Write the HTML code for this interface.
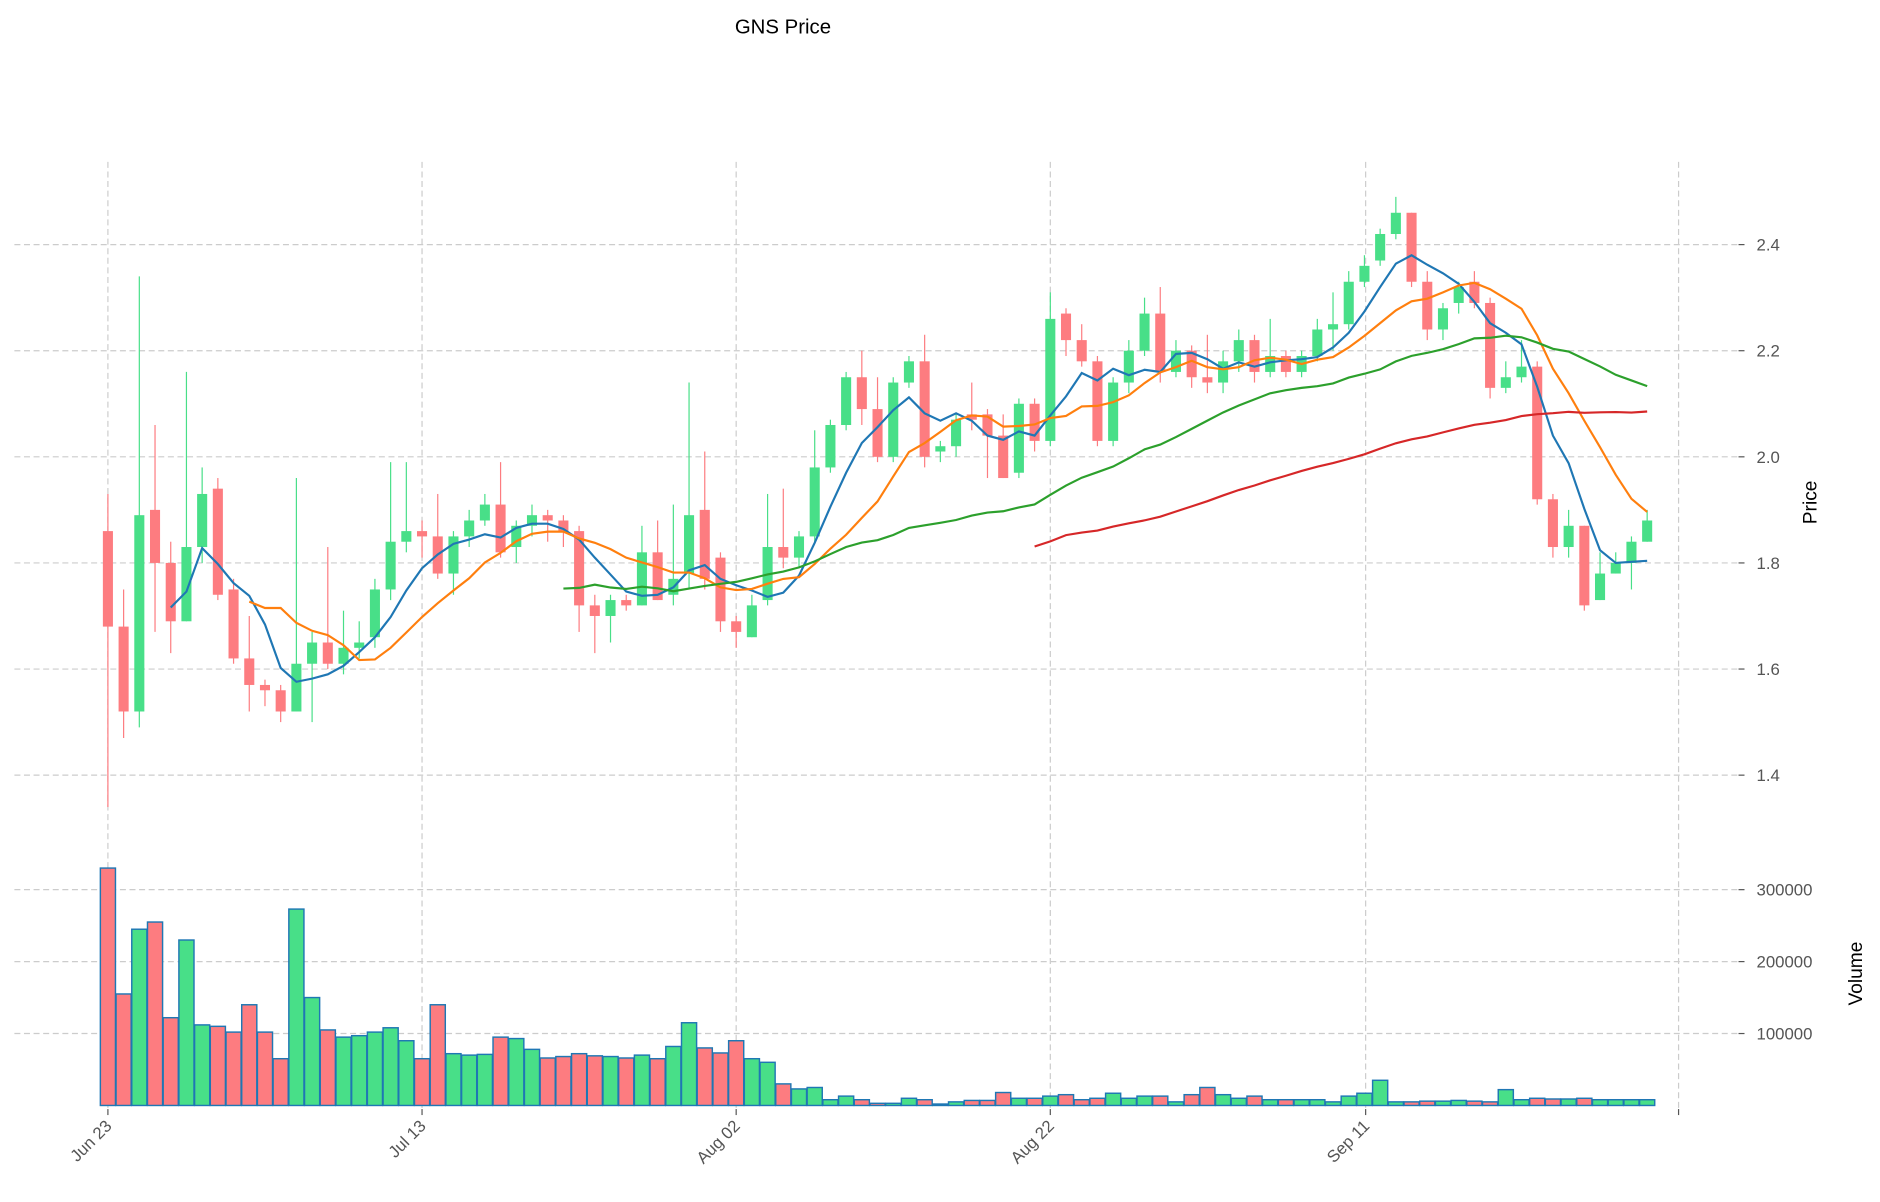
<!DOCTYPE html>
<html><head><meta charset="utf-8"><style>
html,body{margin:0;padding:0;background:#fff;}
svg{display:block;font-family:"Liberation Sans","DejaVu Sans",sans-serif;}
</style></head><body>
<svg id="c" width="1880" height="1202" viewBox="0 0 1568 1002.5" xmlns="http://www.w3.org/2000/svg"></svg>
<script>
const D=[
[1.86,1.68,1.93,1.34,330],[1.68,1.52,1.75,1.47,155],[1.52,1.89,2.34,1.49,245],[1.90,1.80,2.06,1.67,255],[1.80,1.69,1.84,1.63,122],
[1.69,1.83,2.16,1.69,230],[1.83,1.93,1.98,1.80,112],[1.94,1.74,1.96,1.73,110],[1.75,1.62,1.77,1.61,102],[1.62,1.57,1.70,1.52,140],
[1.57,1.56,1.58,1.53,102],[1.56,1.52,1.57,1.50,65],[1.52,1.61,1.96,1.52,273],[1.61,1.65,1.67,1.50,150],[1.65,1.61,1.83,1.60,105],
[1.61,1.64,1.71,1.59,95],[1.64,1.65,1.69,1.62,97],[1.66,1.75,1.77,1.64,102],[1.75,1.84,1.99,1.73,108],[1.84,1.86,1.99,1.82,90],
[1.86,1.85,1.88,1.81,65],[1.85,1.78,1.93,1.77,140],[1.78,1.85,1.86,1.74,72],[1.85,1.88,1.90,1.83,70],[1.88,1.91,1.93,1.87,71],
[1.91,1.82,1.99,1.81,95],[1.83,1.87,1.88,1.80,93],[1.87,1.89,1.91,1.85,78],[1.89,1.88,1.90,1.84,66],[1.88,1.86,1.89,1.83,68],
[1.86,1.72,1.87,1.67,72],[1.72,1.70,1.74,1.63,69],[1.70,1.73,1.74,1.65,68],[1.73,1.72,1.74,1.71,66],[1.72,1.82,1.87,1.72,70],
[1.82,1.73,1.88,1.73,65],[1.74,1.77,1.91,1.72,82],[1.78,1.89,2.14,1.75,115],[1.90,1.77,2.01,1.75,80],[1.81,1.69,1.82,1.67,73],
[1.69,1.67,1.70,1.64,90],[1.66,1.72,1.74,1.66,65],[1.73,1.83,1.93,1.72,60],[1.83,1.81,1.94,1.79,30],[1.81,1.85,1.86,1.79,23],
[1.85,1.98,2.05,1.84,25],[1.98,2.06,2.07,1.97,8],[2.06,2.15,2.16,2.05,13],[2.15,2.09,2.20,2.06,8],[2.09,2.00,2.15,1.99,3],
[2.00,2.14,2.15,1.99,3],[2.14,2.18,2.19,2.13,10],[2.18,2.00,2.23,1.98,8],[2.01,2.02,2.03,1.99,2],[2.02,2.07,2.08,2.00,5],
[2.08,2.07,2.14,2.05,7],[2.08,2.04,2.09,1.96,7],[2.04,1.96,2.08,1.96,18],[1.97,2.10,2.11,1.96,10],[2.10,2.03,2.11,2.01,10],
[2.03,2.26,2.31,2.02,13],[2.27,2.22,2.28,2.19,15],[2.22,2.18,2.25,2.17,8],[2.18,2.03,2.19,2.02,10],[2.03,2.14,2.15,2.02,17],
[2.14,2.20,2.22,2.12,10],[2.20,2.27,2.30,2.19,13],[2.27,2.16,2.32,2.14,13],[2.16,2.20,2.22,2.15,5],[2.20,2.15,2.21,2.13,15],
[2.15,2.14,2.23,2.12,25],[2.14,2.18,2.20,2.12,15],[2.18,2.22,2.24,2.16,10],[2.22,2.16,2.23,2.14,13],[2.16,2.19,2.26,2.15,8],
[2.19,2.16,2.20,2.15,8],[2.16,2.19,2.20,2.15,8],[2.19,2.24,2.26,2.18,8],[2.24,2.25,2.31,2.20,5],[2.25,2.33,2.35,2.24,13],
[2.33,2.36,2.38,2.32,17],[2.37,2.42,2.43,2.36,35],[2.42,2.46,2.49,2.41,5],[2.46,2.33,2.46,2.32,5],[2.33,2.24,2.35,2.22,6],
[2.24,2.28,2.29,2.22,6],[2.29,2.32,2.33,2.27,7],[2.33,2.29,2.35,2.28,6],[2.29,2.13,2.30,2.11,5],[2.13,2.15,2.18,2.12,22],
[2.15,2.17,2.22,2.14,8],[2.17,1.92,2.18,1.91,10],[1.92,1.83,1.93,1.81,9],[1.83,1.87,1.90,1.81,9],[1.87,1.72,1.87,1.71,10],
[1.73,1.78,1.82,1.73,8],[1.78,1.80,1.82,1.78,8],[1.80,1.84,1.85,1.75,8],[1.84,1.88,1.90,1.84,8]];
const X=i=>90+i*13.1, Y=p=>204+(2.4-p)*442.5, V=v=>922-v*0.6;
const G='#48df88',R='#fd7c80';
let s='';
// grid
s+='<g stroke="#cccccc" stroke-width="1" stroke-dasharray="5,3">';
[90,352,614,876,1139,1400].forEach(x=>s+=`<line x1="${x}" y1="135" x2="${x}" y2="925"/>`);
[2.4,2.2,2.0,1.8,1.6,1.4].forEach(p=>s+=`<line x1="12" y1="${Y(p)}" x2="1450" y2="${Y(p)}"/>`);
[300,200,100].forEach(v=>s+=`<line x1="12" y1="${V(v)}" x2="1450" y2="${V(v)}"/>`);
s+='</g>';
// volume
D.forEach((d,i)=>{const c=d[1]>=d[0]?G:R;const y=V(d[4]);s+=`<rect x="${X(i)-6.3}" y="${y}" width="12.6" height="${922-y}" fill="${c}" stroke="#1f77b4" stroke-width="1.2"/>`;});
// candles
D.forEach((d,i)=>{const c=d[1]>=d[0]?G:R;const x=X(i);s+=`<line x1="${x}" y1="${Y(d[2])}" x2="${x}" y2="${Y(d[3])}" stroke="${c}" stroke-width="1"/>`;
const t=Y(Math.max(d[0],d[1])),b=Y(Math.min(d[0],d[1]));s+=`<rect x="${x-4.2}" y="${t}" width="8.4" height="${Math.max(b-t,1.2)}" fill="${c}"/>`;});
// MAs
function ma(n,col){let pts=[];for(let i=n-1;i<D.length;i++){let a=0;for(let j=i-n+1;j<=i;j++)a+=D[j][1];pts.push(X(i).toFixed(1)+','+Y(a/n).toFixed(1));}
s+=`<polyline points="${pts.join(' ')}" fill="none" stroke="${col}" stroke-width="1.8"/>`;}
ma(5,'#1f77b4');ma(10,'#ff7f0e');ma(30,'#2ca02c');ma(60,'#d62728');
// ticks
s+='<g fill="#555" font-size="14">';
[2.4,2.2,2.0,1.8,1.6,1.4].forEach(p=>s+=`<line x1="1450" y1="${Y(p)}" x2="1455" y2="${Y(p)}" stroke="#555"/><text x="1465" y="${Y(p)+5}">${p.toFixed(1)}</text>`);
[300000,200000,100000].forEach(v=>s+=`<line x1="1450" y1="${V(v/1000)}" x2="1455" y2="${V(v/1000)}" stroke="#555"/><text x="1465" y="${V(v/1000)+5}">${v}</text>`);
[[90,'Jun 23'],[352,'Jul 13'],[614,'Aug 02'],[876,'Aug 22'],[1139,'Sep 11'],[1400,'']].forEach(([x,t])=>{s+=`<line x1="${x}" y1="925" x2="${x}" y2="930" stroke="#555"/>`;if(t)s+=`<text transform="translate(${x+4},${940}) rotate(-45)" text-anchor="end">${t}</text>`;});
s+='</g>';
s+='<text x="653" y="28" font-size="17" text-anchor="middle" fill="#000">GNS Price</text>';
s+='<text transform="translate(1515,419) rotate(-90)" font-size="16" text-anchor="middle" fill="#000">Price</text>';
s+='<text transform="translate(1553,812) rotate(-90)" font-size="16" text-anchor="middle" fill="#000">Volume</text>';
document.getElementById('c').innerHTML=s;
</script>
</body></html>
